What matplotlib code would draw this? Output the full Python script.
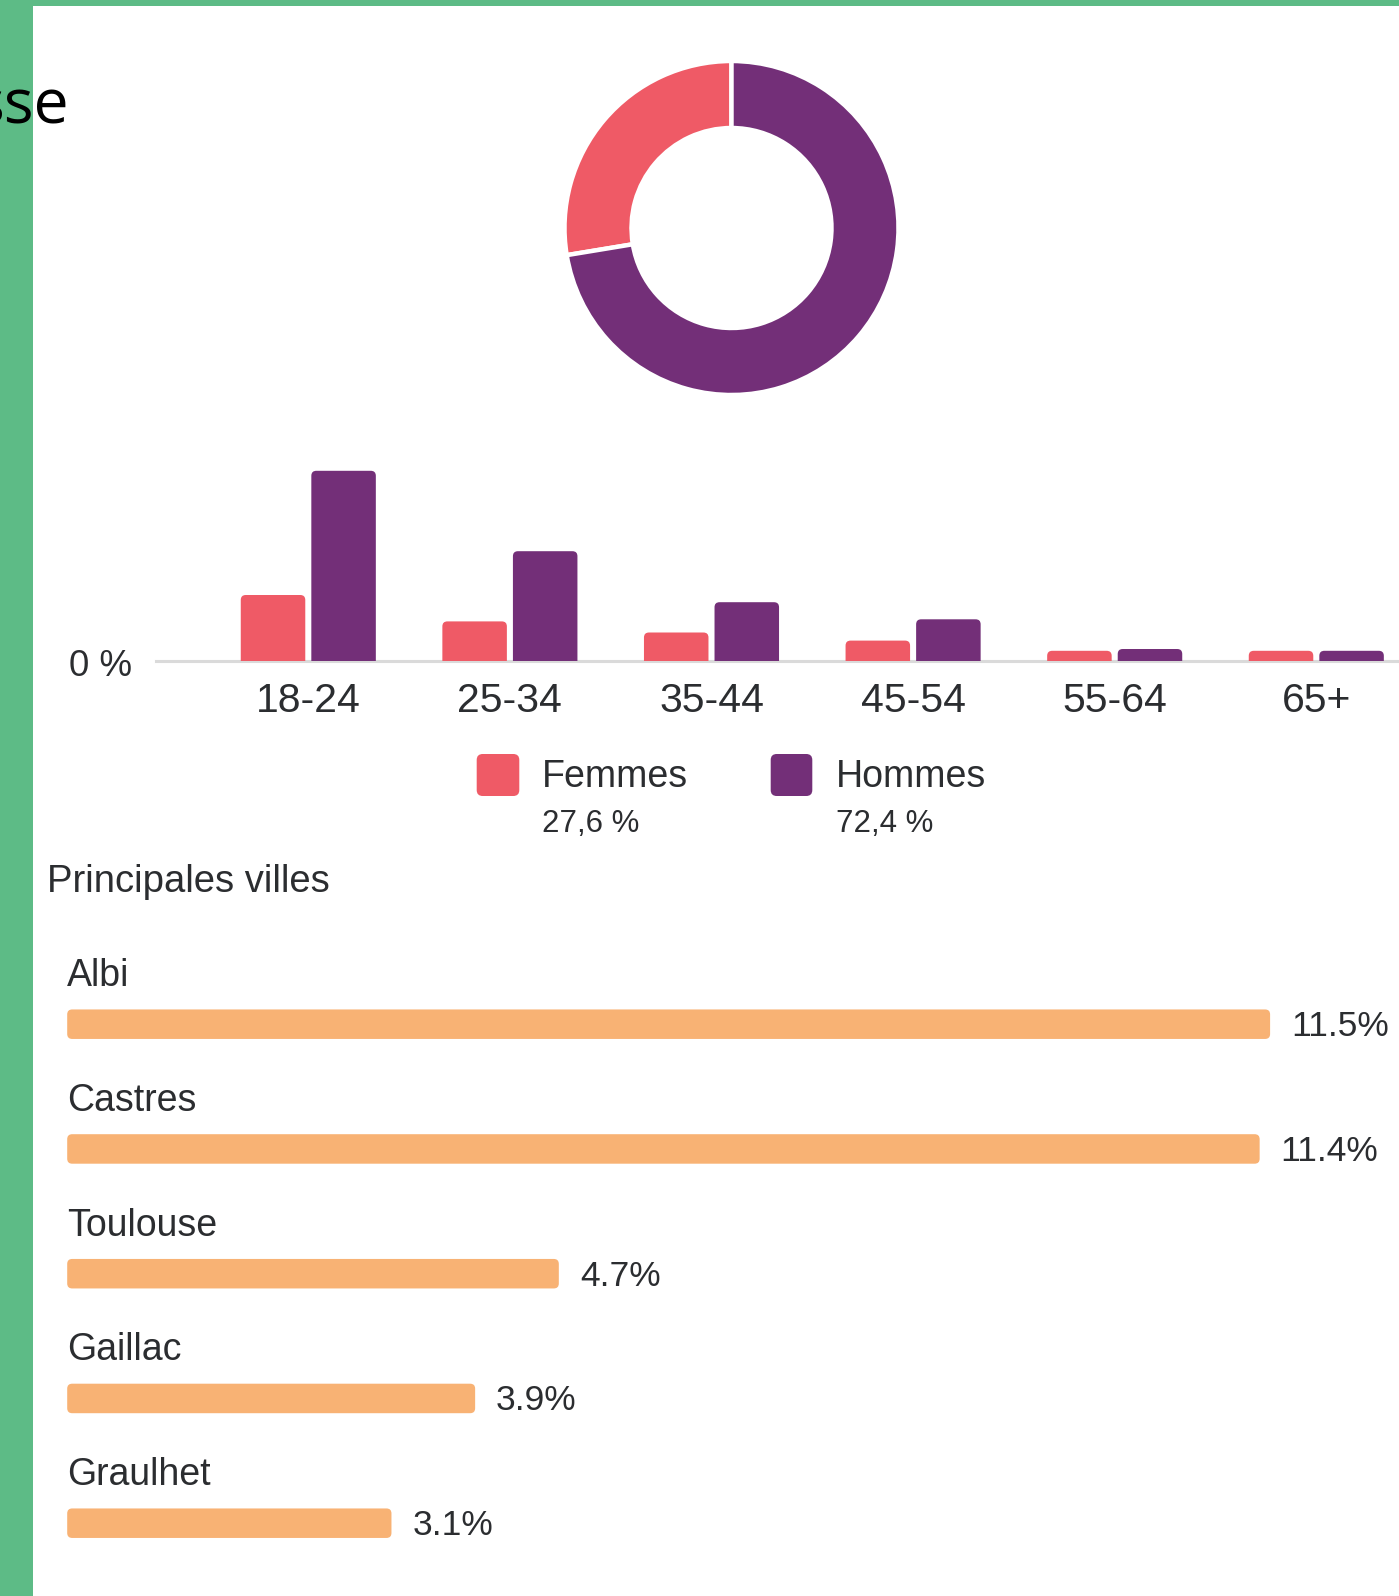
import matplotlib
matplotlib.use('Agg')
import matplotlib.pyplot as plt
from matplotlib.patches import FancyBboxPatch, Rectangle
import numpy as np

plt.rcParams['font.family'] = ['Liberation Sans', 'DejaVu Sans']

# ---------------- data ----------------
cut_title = 'sse'
gender_labels = ['Femmes', 'Hommes']
gender_share = [27.6, 72.4]
gender_share_text = ['27,6 %', '72,4 %']
age_groups = ['18-24', '25-34', '35-44', '45-54', '55-64', '65+']
femmes_pct = [11.0, 6.6, 4.75, 3.4, 1.7, 1.7]
hommes_pct = [31.7, 18.3, 9.8, 6.95, 2.0, 1.7]
zero_label = '0 %'
cities_title = 'Principales villes'
cities = ['Albi', 'Castres', 'Toulouse', 'Gaillac', 'Graulhet']
city_pct = [11.5, 11.4, 4.7, 3.9, 3.1]
city_pct_labels = ['11.5%', '11.4%', '4.7%', '3.9%', '3.1%']

# ---------------- style ----------------
C_F = '#EF5A66'
C_H = '#732F78'
C_CITY = '#F8B274'
C_GREEN = '#5DBB86'
C_TEXT = '#2B2D30'
C_AXIS = '#DADADA'

W, H = 1399, 1596
fig = plt.figure(figsize=(W / 100, H / 100), dpi=100, facecolor='white')


def px_axes(x0, y0, x1, y1, **kw):
    return fig.add_axes([x0 / W, 1 - y1 / H, (x1 - x0) / W, (y1 - y0) / H], **kw)


def round_bars(ax, bars, rpx, xppu, yppu, extend_below=False):
    rx = rpx / xppu
    ry = rpx / yppu
    for b in bars:
        x, y = b.get_x(), b.get_y()
        w, h = b.get_width(), b.get_height()
        if extend_below:
            y0, hh = y - ry, h + ry
        else:
            y0, hh = y, h
        p = FancyBboxPatch((x, y0), w, hh,
                           boxstyle=f'round,pad=0,rounding_size={rx}',
                           mutation_aspect=ry / rx,
                           facecolor=b.get_facecolor(), edgecolor='none',
                           zorder=b.get_zorder())
        ax.add_patch(p)
        b.set_visible(False)


# ---------------- overlay (pixel coords) ----------------
ov = px_axes(0, 0, W, H)
ov.set_xlim(0, W)
ov.set_ylim(H, 0)
ov.axis('off')
ov.add_patch(Rectangle((0, 0), 33, H, facecolor=C_GREEN, edgecolor='none', zorder=1))
ov.add_patch(Rectangle((0, 0), W, 6, facecolor=C_GREEN, edgecolor='none', zorder=1))
ov.text(69, 123, cut_title, family=['Open Sans', 'DejaVu Sans'], fontsize=45,
        color='black', ha='right', va='baseline', zorder=3)

# ---------------- donut ----------------
cx, cy, R, Rin = 731.5, 228, 167, 100
pad = 1.03
dax = px_axes(cx - R * pad, cy - R * pad, cx + R * pad, cy + R * pad)
dax.pie(gender_share, colors=[C_F, C_H], startangle=90, counterclock=True,
        radius=1.0,
        wedgeprops=dict(width=(R - Rin) / R, edgecolor='white', linewidth=3.2))
dax.set_xlim(-pad, pad)
dax.set_ylim(-pad, pad)
dax.set_aspect('equal')
dax.axis('off')

# ---------------- age bars ----------------
base_y = 661
yppu = 6.0
ymax = 35
cat0, cat_step = 308.3, 201.6
left_px = 155.8
aax = px_axes(left_px, base_y - ymax * yppu, W, base_y)
aax.set_xlim((left_px - cat0) / cat_step, (W - cat0) / cat_step)
aax.set_ylim(0, ymax)
aax.axis('off')
xi = np.arange(len(age_groups))
bw = 0.32
off = 0.175
b1 = aax.bar(xi - off, femmes_pct, bw, color=C_F, zorder=3)
b2 = aax.bar(xi + off, hommes_pct, bw, color=C_H, zorder=3)
round_bars(aax, b1, 5, cat_step, yppu, extend_below=True)
round_bars(aax, b2, 5, cat_step, yppu, extend_below=True)
aax.axhline(0, color=C_AXIS, lw=2.2, zorder=2, clip_on=False)
for i, lab in enumerate(age_groups):
    aax.text(i, -(712.5 - base_y) / yppu, lab, ha='center', va='baseline',
             fontsize=29.5, color=C_TEXT, clip_on=False)
ov.text(132, 676, zero_label, ha='right', va='baseline', fontsize=26.5, color=C_TEXT)

# ---------------- legend ----------------
sq = [(476.7, 754, 42.6, 42), (770.7, 754, 41.6, 42)]
txt_x = [541.7, 836]
cols = [C_F, C_H]
for k in range(2):
    x, y, w, h = sq[k]
    ov.add_patch(FancyBboxPatch((x, y), w, h, boxstyle='round,pad=0,rounding_size=6',
                                facecolor=cols[k], edgecolor='none', zorder=2))
    ov.text(txt_x[k], 787, gender_labels[k], fontsize=27, color=C_TEXT,
            ha='left', va='baseline')
    ov.text(txt_x[k], 832, gender_share_text[k], fontsize=22.5, color=C_TEXT,
            ha='left', va='baseline')

ov.text(47.3, 891.7, cities_title, fontsize=27.5, color=C_TEXT, ha='left', va='baseline')

# ---------------- cities ----------------
c0, cstep = 1024.2, 124.75
xppu_c = 104.6
cx0 = 67.2
top_px, bot_px = 900, H
cax = px_axes(cx0, top_px, W, bot_px)
cax.set_xlim(0, (W - cx0) / xppu_c)
cax.set_ylim((bot_px - c0) / cstep, (top_px - c0) / cstep)
cax.axis('off')
yi = np.arange(len(cities))
cb = cax.barh(yi, city_pct, height=29.5 / cstep, color=C_CITY, zorder=2)
round_bars(cax, cb, 5, xppu_c, cstep)
for i in range(len(cities)):
    cax.text(0.0, i - (c0 - 986) / cstep, cities[i], fontsize=27, color=C_TEXT,
             ha='left', va='baseline', clip_on=False)
    cax.text(city_pct[i] + 21.0 / xppu_c, i + (1036 - c0) / cstep, city_pct_labels[i],
             fontsize=25.5, color=C_TEXT, ha='left', va='baseline', clip_on=False)

fig.savefig('out.png', dpi=100, facecolor='white')
